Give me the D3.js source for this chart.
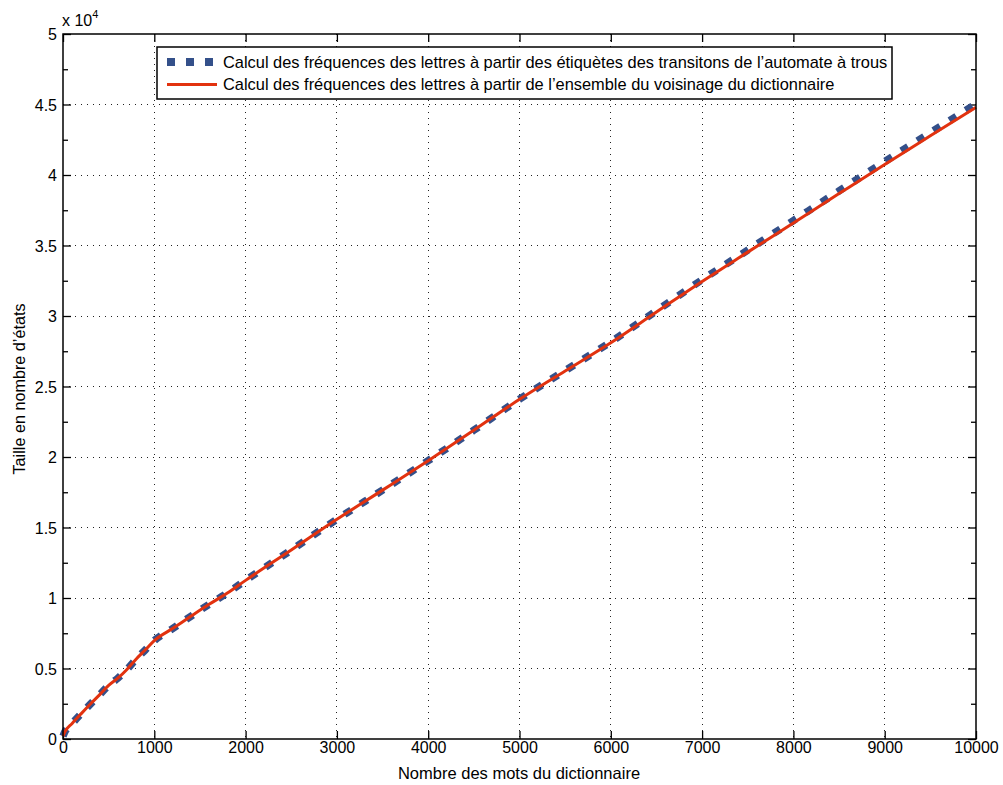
<!DOCTYPE html>
<html><head><meta charset="utf-8">
<script src="https://cdn.jsdelivr.net/npm/d3@7"></script>
<style>body{margin:0;background:#fff;} svg{display:block;} text{font-family:"Liberation Sans",Arial,Helvetica,sans-serif;fill:#000;}</style>
</head><body>
<script>
const wordCounts = [0, 20, 100, 200, 300, 400, 500, 600, 700, 800, 900, 1000, 1200, 1400, 1600, 1800, 2000, 2500, 3000, 3500, 4000, 4500, 5000, 5500, 6000, 6500, 7000, 7500, 8000, 8500, 9000, 9500, 10000];
const sizeEnsemble = [200, 500, 1100, 1800, 2480, 3130, 3800, 4310, 4930, 5660, 6310, 6980, 7830, 8700, 9550, 10350, 11250, 13400, 15580, 17650, 19740, 21900, 24090, 26100, 28100, 30280, 32450, 34530, 36600, 38680, 40750, 42780, 44800];
const sizeEtiquettes = [200, 500, 1100, 1800, 2480, 3130, 3800, 4310, 4930, 5660, 6310, 6980, 7830, 8700, 9550, 10350, 11250, 13400, 15580, 17650, 19740, 21900, 24100, 26130, 28160, 30370, 32570, 34670, 36770, 38870, 40950, 43000, 45030];
const xTicks = [0, 1000, 2000, 3000, 4000, 5000, 6000, 7000, 8000, 9000, 10000];
const yTicks = [0, 5000, 10000, 15000, 20000, 25000, 30000, 35000, 40000, 45000, 50000];
const yTickLabels = ["0", "0.5", "1", "1.5", "2", "2.5", "3", "3.5", "4", "4.5", "5"];
const yMinorTicks = [2500, 7500, 12500, 17500, 22500, 27500, 32500, 37500, 42500, 47500];
const legendLabels = ["Calcul des fréquences des lettres à partir des étiquètes des transitons de l\u2019automate à trous",
                      "Calcul des fréquences des lettres à partir de l\u2019ensemble du voisinage du dictionnaire"];

const W = 1003, H = 785;
const L = 63, R = 976, T = 34, B = 739;
const svg = d3.select("body").append("svg").attr("width", W).attr("height", H);
const x = d3.scaleLinear().domain([0, 10000]).range([L, R]);
const y = d3.scaleLinear().domain([0, 50000]).range([B, T]);

// grid
const grid = svg.append("g").attr("stroke", "#222").attr("stroke-width", 1).attr("stroke-dasharray", "1,5").attr("shape-rendering","crispEdges");
xTicks.slice(1, -1).forEach(v => grid.append("line").attr("x1", x(v)).attr("x2", x(v)).attr("y1", T).attr("y2", B));
yTicks.slice(1, -1).forEach(v => grid.append("line").attr("x1", L).attr("x2", R).attr("y1", y(v)).attr("y2", y(v)));

// axes
const fs = 16;
const xAxisB = d3.axisBottom(x).tickValues(xTicks).tickFormat(d3.format("d")).tickSizeInner(-8).tickSizeOuter(0).tickPadding(3);
const gxb = svg.append("g").attr("transform", `translate(0,${B})`).call(xAxisB);
const xAxisT = d3.axisTop(x).tickValues(xTicks).tickFormat("").tickSizeInner(-8).tickSizeOuter(0);
const gxt = svg.append("g").attr("transform", `translate(0,${T})`).call(xAxisT);
const yAxisL = d3.axisLeft(y).tickValues(yTicks).tickFormat((d, i) => yTickLabels[i]).tickSizeInner(-8).tickSizeOuter(0).tickPadding(6);
const gyl = svg.append("g").attr("transform", `translate(${L},0)`).call(yAxisL);
const yAxisR = d3.axisRight(y).tickValues(yTicks).tickFormat("").tickSizeInner(-8).tickSizeOuter(0);
const gyr = svg.append("g").attr("transform", `translate(${R},0)`).call(yAxisR);
const yMinL = d3.axisLeft(y).tickValues(yMinorTicks).tickFormat("").tickSizeInner(-5).tickSizeOuter(0);
const gml = svg.append("g").attr("transform", `translate(${L},0)`).call(yMinL);
const yMinR = d3.axisRight(y).tickValues(yMinorTicks).tickFormat("").tickSizeInner(-5).tickSizeOuter(0);
const gmr = svg.append("g").attr("transform", `translate(${R},0)`).call(yMinR);
[gxb, gxt, gyl, gyr, gml, gmr].forEach(g => {
  g.select(".domain").remove();
  g.selectAll("line").attr("stroke", "#000").attr("stroke-width", 1.3);
  g.selectAll("text").attr("font-size", fs).attr("font-family", '"Liberation Sans",Arial,sans-serif').attr("fill", "#000");
});
gyl.selectAll("text").attr("dy", "0.35em");

// curves
const line = (arr) => d3.line().x((d, i) => x(wordCounts[i])).y((d) => y(d)).curve(d3.curveMonotoneX)(arr);
svg.append("path").attr("d", line(sizeEtiquettes)).attr("fill", "none").attr("stroke", "#34508a")
  .attr("stroke-width", 7.5).attr("stroke-dasharray", "8,11");
svg.append("path").attr("d", line(sizeEnsemble)).attr("fill", "none").attr("stroke", "#e2320f")
  .attr("stroke-width", 3);

// box
svg.append("rect").attr("x", L).attr("y", T).attr("width", R - L).attr("height", B - T)
  .attr("fill", "none").attr("stroke", "#000").attr("stroke-width", 1.5);

// exponent
const ex = svg.append("text").attr("x", 62).attr("y", 26).attr("font-size", 16);
ex.append("tspan").text("x 10");
ex.append("tspan").attr("dy", -8).attr("font-size", 11).text("4");

// labels
svg.append("text").attr("x", 519).attr("y", 779).attr("text-anchor", "middle").attr("font-size", 16.5).text("Nombre des mots du dictionnaire");
svg.append("text").attr("transform", `translate(25,${389}) rotate(-90)`).attr("text-anchor", "middle").attr("font-size", 16.2).text("Taille en nombre d\u2019états");

// legend
const lg = svg.append("g");
lg.append("rect").attr("x", 157).attr("y", 47).attr("width", 735).attr("height", 52).attr("fill", "#fff").attr("stroke", "#000").attr("stroke-width", 1.5);
lg.append("line").attr("x1", 167).attr("x2", 217).attr("y1", 62).attr("y2", 62).attr("stroke", "#34508a").attr("stroke-width", 8).attr("stroke-dasharray", "8,11");
lg.append("line").attr("x1", 167).attr("x2", 217).attr("y1", 84.5).attr("y2", 84.5).attr("stroke", "#e2320f").attr("stroke-width", 3);
lg.append("text").attr("x", 223).attr("y", 67.5).attr("font-size", 16.4).text(legendLabels[0]);
lg.append("text").attr("x", 223).attr("y", 90).attr("font-size", 16.4).text(legendLabels[1]);
</script>
</body></html>
